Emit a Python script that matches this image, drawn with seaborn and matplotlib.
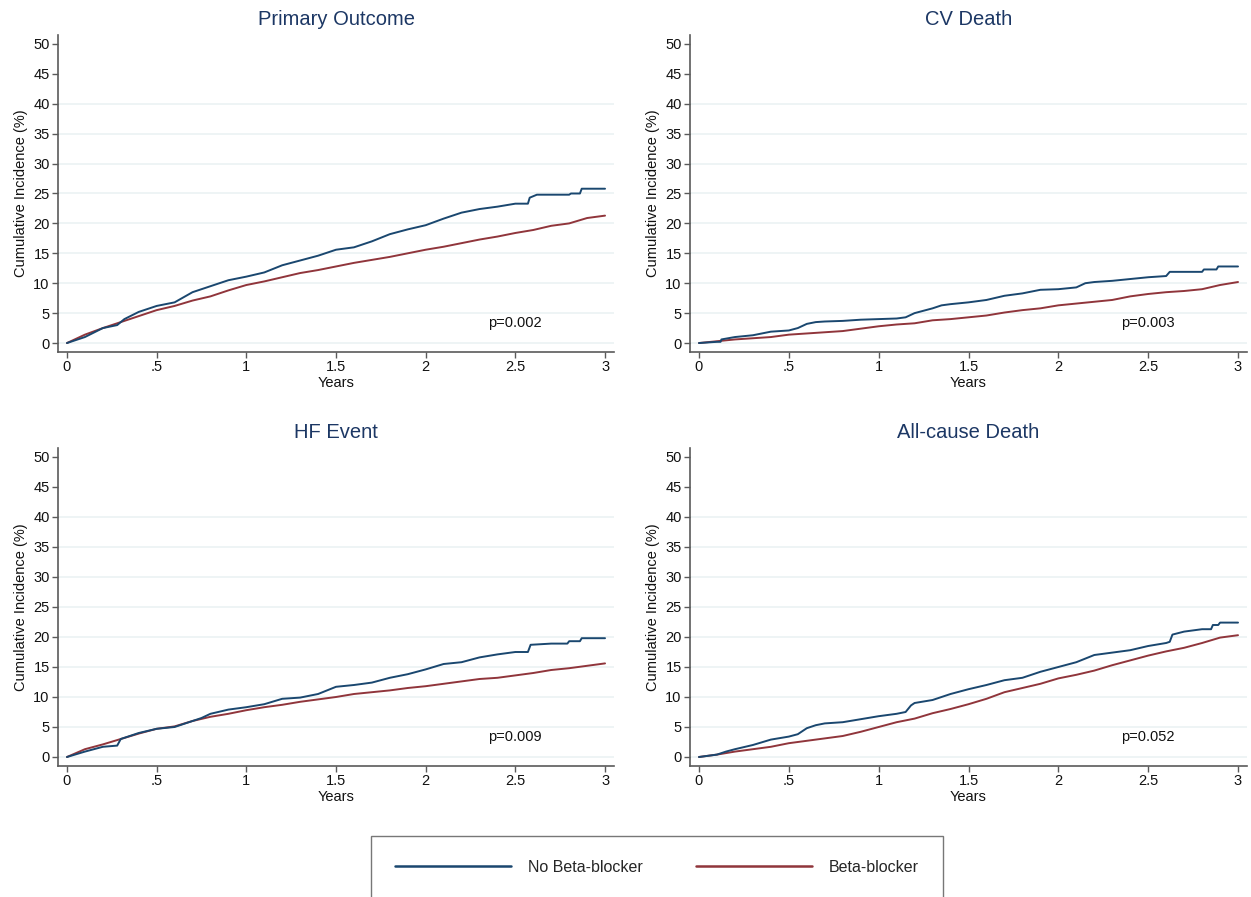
# Cumulative incidence by beta-blocker use, 4 outcomes
import matplotlib.pyplot as plt
import seaborn as sns
from matplotlib.lines import Line2D

# ---- data (years, cumulative incidence %) ----
titles = ["Primary Outcome", "CV Death", "HF Event", "All-cause Death"]
p_values = ["p=0.002", "p=0.003", "p=0.009", "p=0.052"]
groups = ["No Beta-blocker", "Beta-blocker"]

grid_t = [0, 0.1, 0.2, 0.3, 0.4, 0.5, 0.6, 0.7, 0.8, 0.9, 1.0,
          1.1, 1.2, 1.3, 1.4, 1.5, 1.6, 1.7, 1.8, 1.9, 2.0,
          2.1, 2.2, 2.3, 2.4, 2.5, 2.6, 2.7, 2.8, 2.9, 3.0]

# Primary outcome
primary_nobb_t = [0, 0.1, 0.2, 0.28, 0.32, 0.4, 0.5, 0.6, 0.7, 0.8, 0.9, 1.0,
                  1.1, 1.2, 1.3, 1.4, 1.5, 1.6, 1.7, 1.8, 1.9, 2.0,
                  2.1, 2.2, 2.3, 2.4, 2.5, 2.57, 2.58, 2.62, 2.8, 2.81, 2.86, 2.87, 3.0]
primary_nobb = [0, 1.0, 2.5, 3.0, 4.0, 5.2, 6.2, 6.8, 8.5, 9.5, 10.5, 11.1,
                11.8, 13.0, 13.8, 14.6, 15.6, 16.0, 17.0, 18.2, 19.0, 19.7,
                20.8, 21.8, 22.4, 22.8, 23.3, 23.3, 24.3, 24.8, 24.8, 25.0, 25.0, 25.8, 25.8]
primary_bb = [0, 1.4, 2.5, 3.5, 4.5, 5.5, 6.2, 7.1, 7.8, 8.8, 9.7,
              10.3, 11.0, 11.7, 12.2, 12.8, 13.4, 13.9, 14.4, 15.0, 15.6,
              16.1, 16.7, 17.3, 17.8, 18.4, 18.9, 19.6, 20.0, 20.9, 21.3]

# CV death
cv_nobb_t = [0, 0.1, 0.12, 0.125, 0.2, 0.3, 0.4, 0.5, 0.55, 0.6, 0.65, 0.7, 0.8, 0.9, 1.0,
             1.1, 1.15, 1.2, 1.3, 1.35, 1.4, 1.5, 1.6, 1.7, 1.8, 1.9, 2.0,
             2.1, 2.15, 2.2, 2.3, 2.4, 2.5, 2.6, 2.62, 2.8, 2.81, 2.88, 2.89, 3.0]
cv_nobb = [0, 0.2, 0.2, 0.6, 1.0, 1.3, 1.9, 2.1, 2.5, 3.2, 3.5, 3.6, 3.7, 3.9, 4.0,
           4.1, 4.3, 5.0, 5.8, 6.3, 6.5, 6.8, 7.2, 7.9, 8.3, 8.9, 9.0,
           9.3, 10.0, 10.2, 10.4, 10.7, 11.0, 11.2, 11.9, 11.9, 12.3, 12.3, 12.8, 12.8]
cv_bb = [0, 0.3, 0.6, 0.8, 1.0, 1.4, 1.6, 1.8, 2.0, 2.4, 2.8,
         3.1, 3.3, 3.8, 4.0, 4.3, 4.6, 5.1, 5.5, 5.8, 6.3,
         6.6, 6.9, 7.2, 7.8, 8.2, 8.5, 8.7, 9.0, 9.7, 10.2]

# HF event
hf_nobb_t = [0, 0.1, 0.2, 0.28, 0.3, 0.35, 0.4, 0.5, 0.6, 0.7, 0.75, 0.8, 0.9, 1.0,
             1.1, 1.2, 1.3, 1.4, 1.5, 1.6, 1.7, 1.8, 1.9, 2.0,
             2.1, 2.2, 2.3, 2.4, 2.5, 2.57, 2.585, 2.7, 2.79, 2.8, 2.86, 2.87, 3.0]
hf_nobb = [0, 0.9, 1.7, 1.9, 3.0, 3.5, 4.0, 4.7, 5.0, 6.0, 6.5, 7.2, 7.9, 8.3,
           8.8, 9.7, 9.9, 10.5, 11.7, 12.0, 12.4, 13.2, 13.8, 14.6,
           15.5, 15.8, 16.6, 17.1, 17.5, 17.5, 18.7, 18.9, 18.9, 19.3, 19.3, 19.8, 19.8]
hf_bb = [0, 1.3, 2.1, 3.0, 3.9, 4.7, 5.1, 6.0, 6.7, 7.2, 7.8,
         8.3, 8.7, 9.2, 9.6, 10.0, 10.5, 10.8, 11.1, 11.5, 11.8,
         12.2, 12.6, 13.0, 13.2, 13.6, 14.0, 14.5, 14.8, 15.2, 15.6]

# All-cause death
acd_nobb_t = [0, 0.1, 0.15, 0.2, 0.3, 0.4, 0.5, 0.55, 0.6, 0.65, 0.7, 0.8, 0.9, 1.0,
              1.1, 1.15, 1.18, 1.2, 1.3, 1.4, 1.5, 1.6, 1.7, 1.8, 1.9, 2.0,
              2.1, 2.2, 2.3, 2.4, 2.5, 2.6, 2.62, 2.635, 2.7, 2.8, 2.85, 2.86, 2.89, 2.9, 3.0]
acd_nobb = [0, 0.4, 0.9, 1.3, 2.0, 2.9, 3.4, 3.8, 4.8, 5.3, 5.6, 5.8, 6.3, 6.8,
            7.2, 7.5, 8.6, 9.0, 9.5, 10.5, 11.3, 12.0, 12.8, 13.2, 14.2, 15.0,
            15.8, 17.0, 17.4, 17.8, 18.5, 19.0, 19.2, 20.4, 20.9, 21.3, 21.3, 22.0, 22.0, 22.4, 22.4]
acd_bb = [0, 0.4, 0.9, 1.3, 1.7, 2.3, 2.7, 3.1, 3.5, 4.2, 5.0,
          5.8, 6.4, 7.3, 8.0, 8.8, 9.7, 10.8, 11.5, 12.2, 13.1,
          13.7, 14.4, 15.3, 16.1, 16.9, 17.6, 18.2, 19.0, 19.9, 20.3]

nobb_times = [primary_nobb_t, cv_nobb_t, hf_nobb_t, acd_nobb_t]
nobb_vals = [primary_nobb, cv_nobb, hf_nobb, acd_nobb]
bb_vals = [primary_bb, cv_bb, hf_bb, acd_bb]

y_ticks = [0, 5, 10, 15, 20, 25, 30, 35, 40, 45, 50]
x_ticks = [0, 0.5, 1, 1.5, 2, 2.5, 3]
x_ticklabels = ["0", ".5", "1", "1.5", "2", "2.5", "3"]

# ---- style ----
BLUE = "#1a476f"
RED = "#90353b"
TITLE = "#1c3764"
AXIS = "#5a5a5a"
GRID = "#e9f1f3"

sns.set_theme(style="white")
plt.rcParams["font.family"] = ["Liberation Sans", "DejaVu Sans"]

W, H = 1251, 897
fig = plt.figure(figsize=(W / 100, H / 100), dpi=100)

# axes boxes in pixels: left, top, right, bottom
boxes = [(58, 35, 614, 352), (690, 35, 1247, 352),
         (58, 448, 614, 766), (690, 448, 1247, 766)]

for i, (l, t, r, b) in enumerate(boxes):
    ax = fig.add_axes([l / W, 1 - b / H, (r - l) / W, (b - t) / H])

    for y in y_ticks[:9]:
        ax.axhline(y, color=GRID, lw=1.1, zorder=0)

    sns.lineplot(x=grid_t, y=bb_vals[i], ax=ax, color=RED, lw=1.4)
    sns.lineplot(x=nobb_times[i], y=nobb_vals[i], ax=ax, color=BLUE, lw=1.4)

    ax.set_xlim(-0.05, 3.05)
    ax.set_ylim(-1.5, 51.5)
    ax.set_yticks(y_ticks)
    ax.set_xticks(x_ticks)
    ax.set_xticklabels(x_ticklabels)

    for side in ["top", "right"]:
        ax.spines[side].set_visible(False)
    for side in ["left", "bottom"]:
        ax.spines[side].set_color(AXIS)
        ax.spines[side].set_linewidth(1.2)
    ax.tick_params(axis="both", which="major", length=4, width=1, color=AXIS,
                   labelsize=10.5, labelcolor="#111111", pad=2, bottom=True, left=True)

    ax.set_title(titles[i], fontsize=14.5, color=TITLE, pad=7)
    ax.set_xlabel("Years", fontsize=10.5, color="#111111", labelpad=1)
    ax.set_ylabel("Cumulative Incidence (%)", fontsize=10.5, color="#111111", labelpad=4)
    ax.text(2.5, 3.3, p_values[i], fontsize=10.5, ha="center", va="center",
            color="#111111")

handles = [Line2D([], [], color=BLUE, lw=1.8), Line2D([], [], color=RED, lw=1.8)]
leg = fig.legend(handles, groups, loc="upper center", ncol=2,
                 bbox_to_anchor=(657 / W, 1 - 836 / H), frameon=True, fancybox=False,
                 fontsize=11.5, handlelength=7.25, handletextpad=1.1, columnspacing=3.3,
                 borderpad=1.5, borderaxespad=0)
leg.get_frame().set_edgecolor("#555555")
leg.get_frame().set_linewidth(1.0)

fig.savefig("out.png", dpi=100)
